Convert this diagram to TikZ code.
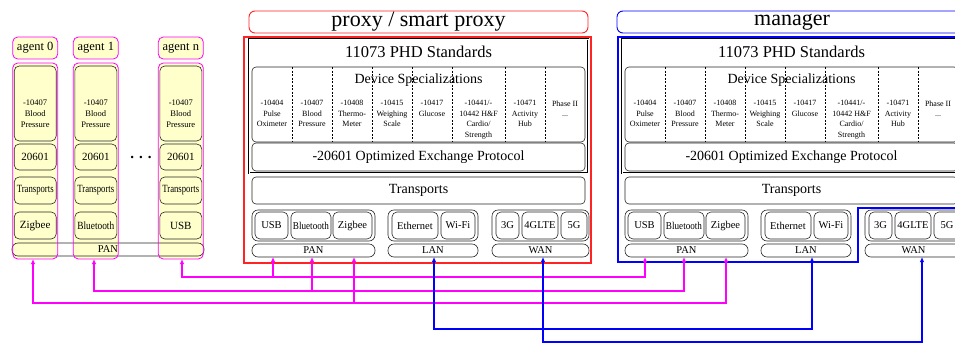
\documentclass[tikz,border=0pt]{standalone}
\usepackage{fontspec}
\setmainfont{Liberation Serif}
\usetikzlibrary{arrows.meta}
\definecolor{agy}{RGB}{255,255,204}
\definecolor{pred}{RGB}{255,35,35}
\definecolor{mag}{RGB}{255,0,255}
\definecolor{mblue}{RGB}{0,0,255}
\newcommand\fs[2]{\fontsize{#1}{#2}\selectfont}
\newcommand\bx[7]{\node[#1,minimum width={(#5)-(#3)},minimum height={(#6)-(#4)}] (#2) at ({((#3)+(#5))/2},{((#4)+(#6))/2}) {#7};}
\tikzset{
  base/.style={inner sep=0pt,outer sep=0pt,align=center},
  rbox/.style={base,draw=black!85,line width=0.6pt,rounded corners=4pt},
  ibox/.style={rbox,rounded corners=5pt,font=\fs{10.5}{12}},
  pill/.style={rbox,rounded corners=6pt,font=\fs{10.5}{12}},
  agfill/.style={base,fill=agy,rounded corners=5pt},
  agline/.style={draw=mag,line width=0.8pt,rounded corners=5pt},
  aginner/.style={rbox,fill=agy,rounded corners=5pt},
  txt/.style={inner sep=0pt,align=center},
  col/.style={txt,anchor=north,font=\fs{8}{10.5}},
  acol/.style={txt,anchor=north,font=\fs{8.5}{11}},
  dline/.style={draw=black,line width=0.5pt,dash pattern=on 2pt off 1.5pt},
  magline/.style={draw=mag,line width=1.8pt},
  blueline/.style={draw=mblue,line width=1.8pt},
  tipend/.style={-{Latex[length=5pt,width=4.5pt]}},
  tipboth/.style={{Latex[length=5pt,width=4.5pt]}-{Latex[length=5pt,width=4.5pt]}},
  titlebox/.style={base,line width=0.9pt,rounded corners=6pt,font=\fs{22}{24}},
}
\newcommand\agent[4]{%
  \bx{agfill,draw=mag,line width=0.8pt,font=\fs{12.5}{14}}{#1lab}{#2}{37}{#2+45}{59}{#3}%
  \bx{agfill}{#1out}{#2}{63}{#2+45}{259}{}%
  \bx{aginner}{#1spec}{#2+1.5}{66}{#2+43.5}{141}{}%
  \node[acol] (#1spect) at (#2+22.5,99.5) {-10407\\Blood\\Pressure};%
  \bx{aginner,font=\fs{11}{13}}{#1ex}{#2+1.5}{144}{#2+43.5}{170}{20601}%
  \bx{aginner,font=\fs{11}{13}}{#1tr}{#2+1.5}{177}{#2+43.5}{204}{\scalebox{0.79}[1]{Transports}}%
  \bx{aginner,font=\fs{11}{13}}{#1ph}{#2+1.5}{212}{#2+43.5}{239}{#4}%
}
\newcommand\phdstack[1]{%
  \bx{base,draw=black,line width=0.5pt,double=white,double distance=0.5pt}{#1std}{249}{39}{588}{173}{}%
  \node[txt,font=\fs{16.5}{18}] (#1stdt) at (418.5,52) {11073 PHD Standards};%
  \bx{rbox}{#1spec}{252}{67}{585}{142}{}%
  \node[txt,font=\fs{14}{16}] (#1spect) at (418.5,80) {Device Specializations};%
  \foreach \xx in {292,332,372,412,452,505,545}{\draw[dline] (\xx,67) -- (\xx,142);}%
  \node[col] (#1c1) at (272,100) {-10404\\Pulse\\Oximeter};%
  \node[col] (#1c2) at (312,100) {-10407\\Blood\\Pressure};%
  \node[col] (#1c3) at (352,100) {-10408\\Thermo-\\Meter};%
  \node[col] (#1c4) at (392,100) {-10415\\Weighing\\Scale};%
  \node[col] (#1c5) at (432,100) {-10417\\Glucose};%
  \node[col] (#1c6) at (478.5,100) {-10441/-\\10442 H\&F\\Cardio/\\Strength};%
  \node[col] (#1c7) at (525,100) {-10471\\Activity\\Hub};%
  \node[col] (#1c8) at (565,100.5) {Phase II\\...};%
  \bx{rbox,font=\fs{14}{16}}{#1oep}{252}{143}{585}{171}{-20601 Optimized Exchange Protocol}%
  \bx{rbox,font=\fs{14}{16}}{#1tr}{252}{177}{585}{204}{Transports}%
  \bx{rbox,rounded corners=6pt}{#1pang}{252}{210}{375}{241}{}%
  \bx{ibox}{#1usb}{255}{212}{288}{239}{USB}%
  \bx{ibox}{#1bt}{291}{212}{331}{239}{\scalebox{0.87}[1]{Bluetooth}}%
  \bx{ibox}{#1zb}{333}{212}{372}{239}{Zigbee}%
  \bx{pill}{#1pan}{252}{244}{375}{257}{PAN}%
  \bx{rbox,rounded corners=6pt}{#1lang}{388}{210}{478}{241}{}%
  \bx{ibox}{#1eth}{392}{212}{438}{239}{Ethernet}%
  \bx{ibox}{#1wifi}{441}{212}{475}{239}{Wi-Fi}%
  \bx{pill}{#1lan}{388}{244}{478}{257}{LAN}%
  \bx{rbox,rounded corners=6pt}{#1wang}{492}{210}{589}{241}{}%
  \bx{ibox}{#1g3}{496}{212}{519}{239}{3G}%
  \bx{ibox}{#1g4}{522}{212}{558}{239}{4GLTE}%
  \bx{ibox}{#1g5}{561}{212}{587}{239}{5G}%
  \bx{pill}{#1wan}{492}{244}{589}{257}{WAN}%
}
\begin{document}
\begin{tikzpicture}[x=1pt,y=-1pt]
\useasboundingbox (0,0) rectangle (955,343);
\clip (0,0) rectangle (955,343);
% agents
\agent{a0}{12.7}{agent 0}{Zigbee}
\agent{a1}{73.3}{agent 1}{\scalebox{0.85}[1]{Bluetooth}}
\agent{an}{158.3}{agent n}{USB}
\node[txt,font=\bfseries\fs{15}{16}] (dots) at (141,157) {. . .};
\bx{pill}{apan}{12}{243}{204}{256}{PAN}
\foreach \ag in {a0,a1,an}{\draw[agline] (\ag out.south west) rectangle (\ag out.north east);}
% proxy
\bx{titlebox,draw=pred}{ptitle}{249}{11}{588}{33}{proxy / smart proxy}
\bx{base,draw=pred,line width=1.2pt}{pframe}{244}{37}{591}{263}{}
\phdstack{p}
% manager
\bx{titlebox,draw=mblue}{mtitle}{617}{11}{967}{33}{manager}
\draw[mblue,line width=1.2pt] (618,37) -- (966,37) -- (966,208) -- (858,208) -- (858,262) -- (618,262) -- cycle;
\begin{scope}[xshift=373pt]
\phdstack{m}
\end{scope}
% connector end points
\coordinate (aT0) at (33,259);
\coordinate (aT1) at (94,259);
\coordinate (aTn) at (182,259);
\coordinate (pT1) at (273,257);
\coordinate (pT2) at (312,257);
\coordinate (pT3) at (354,257);
\coordinate (pTL) at (434,257);
\coordinate (pTW) at (543,257);
\coordinate (mT1) at (645,257);
\coordinate (mT2) at (684,257);
\coordinate (mT3) at (726,257);
\coordinate (mTL) at (812,257);
\coordinate (mTW) at (922,257);
\coordinate (j1) at (273,277);
\coordinate (j2) at (312,291);
\coordinate (j3) at (354,303);
% magenta PAN links
\draw[magline,tipboth] (aTn) -- (182,277) -| (mT1);
\draw[magline,tipboth] (aT1) -- (94,291) -| (mT2);
\draw[magline,tipboth] (aT0) -- (33,303) -| (mT3);
\draw[magline,tipend] (j1) -- (pT1);
\draw[magline,tipend] (j2) -- (pT2);
\draw[magline,tipend] (j3) -- (pT3);
% blue LAN / WAN links
\draw[blueline,tipboth] (pTL) -- (434,329) -| (mTL);
\draw[blueline,tipboth] (pTW) -- (543,341.8) -| (mTW);
\end{tikzpicture}
\end{document}
